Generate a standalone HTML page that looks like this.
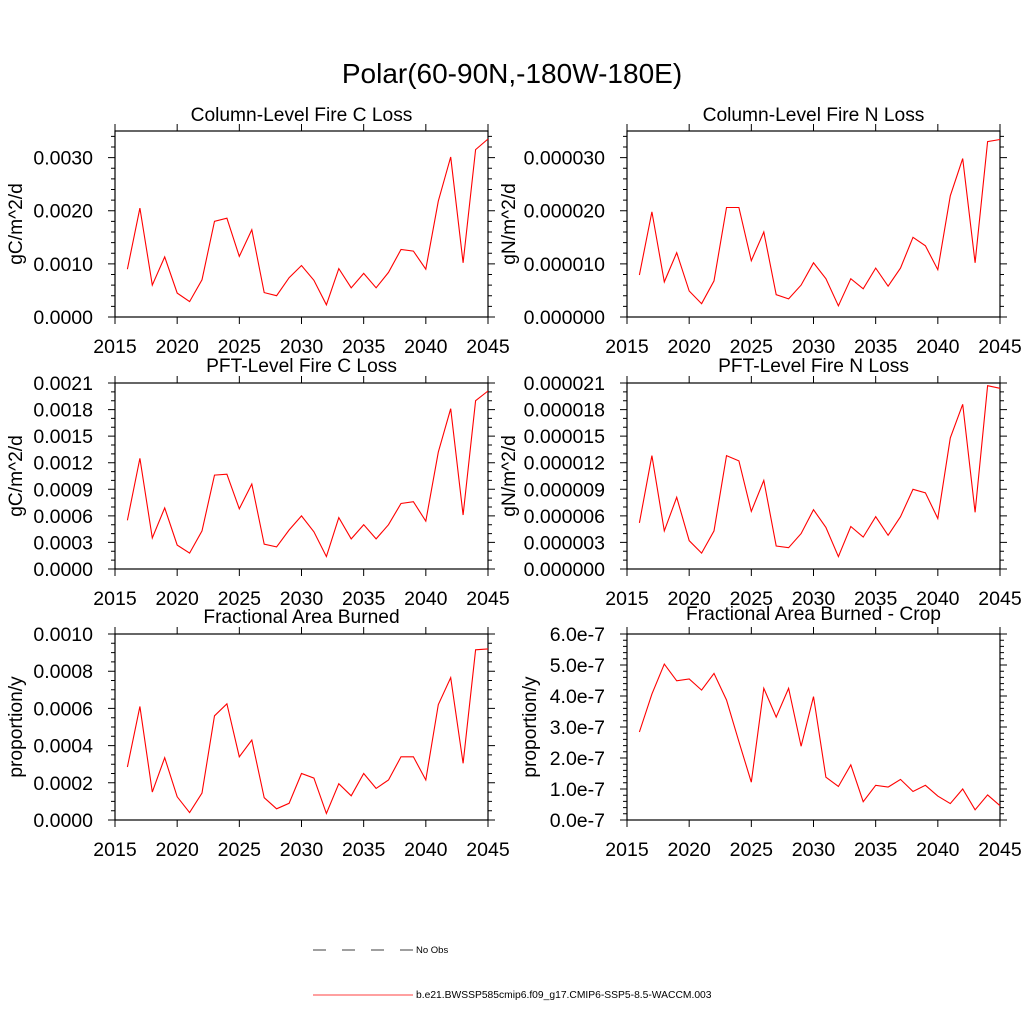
<!DOCTYPE html>
<html><head><meta charset="utf-8"><style>
body{margin:0;background:#fff}
svg text{font-family:"Liberation Sans",sans-serif;fill:#000}
</style></head><body>
<svg id="chart" width="1024" height="1024" xmlns="http://www.w3.org/2000/svg">
<rect width="1024" height="1024" fill="#fff"/>
<text x="512" y="83" font-size="28" text-anchor="middle">Polar(60-90N,-180W-180E)</text>
<g>
<line x1="313" y1="950" x2="413" y2="950" stroke="#000" stroke-width="0.7" stroke-dasharray="13,16"/>
<text x="416" y="953" font-size="9.5">No Obs</text>
<line x1="313" y1="995" x2="413" y2="995" stroke="red" stroke-width="0.8"/>
<text x="416" y="998" font-size="10.3">b.e21.BWSSP585cmip6.f09_g17.CMIP6-SSP5-8.5-WACCM.003</text>
</g>
</svg>
<script>
const years=[2016,2017,2018,2019,2020,2021,2022,2023,2024,2025,2026,2027,2028,2029,2030,2031,2032,2033,2034,2035,2036,2037,2038,2039,2040,2041,2042,2043,2044,2045];
const xTicks=[2015,2020,2025,2030,2035,2040,2045];
const colC=[0.90,2.05,0.60,1.13,0.45,0.29,0.70,1.80,1.86,1.14,1.64,0.46,0.40,0.74,0.97,0.69,0.23,0.91,0.55,0.82,0.55,0.84,1.27,1.24,0.90,2.18,3.01,1.02,3.15,3.35];
const colN=[0.79,1.98,0.66,1.21,0.49,0.25,0.68,2.06,2.06,1.06,1.60,0.42,0.34,0.60,1.02,0.72,0.21,0.72,0.53,0.92,0.58,0.92,1.50,1.34,0.89,2.28,2.98,1.02,3.30,3.34];
const pftC=[5.5,12.5,3.5,6.9,2.7,1.8,4.3,10.6,10.7,6.8,9.6,2.8,2.5,4.4,6.0,4.2,1.4,5.8,3.4,5.0,3.4,5.0,7.4,7.6,5.4,13.2,18.1,6.1,19.0,20.1];
const pftN=[5.2,12.8,4.3,8.1,3.2,1.8,4.3,12.8,12.2,6.5,10.0,2.6,2.4,4.0,6.7,4.7,1.4,4.8,3.6,5.9,3.8,5.9,9.0,8.6,5.7,14.8,18.6,6.4,20.7,20.4];
const fab=[2.85,6.1,1.5,3.35,1.25,0.4,1.45,5.6,6.25,3.4,4.3,1.2,0.6,0.9,2.5,2.25,0.35,1.95,1.3,2.5,1.7,2.15,3.4,3.4,2.15,6.2,7.65,3.05,9.15,9.2];
const fabCrop=[2.84,4.06,5.03,4.49,4.55,4.19,4.73,3.87,2.53,1.22,4.25,3.32,4.25,2.38,3.98,1.38,1.08,1.78,0.59,1.12,1.06,1.31,0.92,1.12,0.77,0.53,1.00,0.33,0.81,0.46];
const yTicksColC=["0.0000","0.0010","0.0020","0.0030"];
const yTicksColN=["0.000000","0.000010","0.000020","0.000030"];
const yTicksPftC=["0.0000","0.0003","0.0006","0.0009","0.0012","0.0015","0.0018","0.0021"];
const yTicksPftN=["0.000000","0.000003","0.000006","0.000009","0.000012","0.000015","0.000018","0.000021"];
const yTicksFab=["0.0000","0.0002","0.0004","0.0006","0.0008","0.0010"];
const yTicksCrop=["0.0e-7","1.0e-7","2.0e-7","3.0e-7","4.0e-7","5.0e-7","6.0e-7"];
const panels=[
 {name:"column-fire-c-loss",title:"Column-Level Fire C Loss",unit:"gC/m^2/d",data:colC,max:3.5,major:1,minor:0.2,labels:yTicksColC,x0:115,y0:131,ty:121,ux:22},
 {name:"column-fire-n-loss",title:"Column-Level Fire N Loss",unit:"gN/m^2/d",data:colN,max:3.5,major:1,minor:0.2,labels:yTicksColN,x0:627,y0:131,ty:121,ux:515},
 {name:"pft-fire-c-loss",title:"PFT-Level Fire C Loss",unit:"gC/m^2/d",data:pftC,max:21,major:3,minor:1,labels:yTicksPftC,x0:115,y0:383,ty:372,ux:22},
 {name:"pft-fire-n-loss",title:"PFT-Level Fire N Loss",unit:"gN/m^2/d",data:pftN,max:21,major:3,minor:1,labels:yTicksPftN,x0:627,y0:383,ty:372,ux:515},
 {name:"fractional-area-burned",title:"Fractional Area Burned",unit:"proportion/y",data:fab,max:10,major:2,minor:0.5,labels:yTicksFab,x0:115,y0:634,ty:623,ux:22},
 {name:"fractional-area-burned-crop",title:"Fractional Area Burned - Crop",unit:"proportion/y",data:fabCrop,max:6,major:1,minor:0.2,labels:yTicksCrop,x0:627,y0:634,ty:620,ux:536}
];
const W=373,H=186,NS="http://www.w3.org/2000/svg";
const svg=document.getElementById('chart');
function mk(t,a,p){const e=document.createElementNS(NS,t);for(const k in a)e.setAttribute(k,a[k]);p.appendChild(e);return e;}
panels.forEach(P=>{
 const g=mk('g',{},svg);
 
 
 const xs=v=>P.x0+(v-2015)/30*W;
 const ys=v=>P.y0+H-v/P.max*H;
 let d="";
 for(let v=0;v<=P.max+1e-9;v+=P.minor){const y=ys(v);d+=`M${P.x0} ${y}h-4M${P.x0+W} ${y}h4`;}
 P.labels.forEach((l,i)=>{const y=ys(i*P.major);d+=`M${P.x0} ${y}h-7M${P.x0+W} ${y}h7`;});
 xTicks.forEach(t=>{const x=xs(t);d+=`M${x} ${P.y0+H}v7M${x} ${P.y0}v-7`;});
 const tk=mk('path',{d:d,stroke:'#000','stroke-width':1,fill:'none'},g);
 
 
 const fr=mk('rect',{x:P.x0,y:P.y0,width:W,height:H,fill:'none',stroke:'#000','stroke-width':1.2},g);
 
 
 P.labels.forEach((l,i)=>{const t=mk('text',{x:P.x0-22,y:ys(i*P.major)+7,'font-size':19.5,'text-anchor':'end'},g);t.textContent=l;
  
  });
 xTicks.forEach(v=>{const t=mk('text',{x:xs(v),y:P.y0+H+36,'font-size':19.5,'text-anchor':'middle'},g);t.textContent=v;
  
  });
 const ti=mk('text',{x:P.x0+W/2,y:P.ty,'font-size':19.2,'text-anchor':'middle'},g);ti.textContent=P.title;
 
 
 const yl=P.ux;
 const u=mk('text',{x:yl,y:P.y0+H/2,'font-size':19.2,'text-anchor':'middle',transform:`rotate(-90 ${yl} ${P.y0+H/2})`},g);u.textContent=P.unit;
 
 
 const pts=P.data.map((v,i)=>xs(years[i]).toFixed(1)+","+ys(v).toFixed(1)).join(" ");
 const ln=mk('polyline',{points:pts,fill:'none',stroke:'red','stroke-width':1.1},g);
 
 
});
</script>
</body></html>
